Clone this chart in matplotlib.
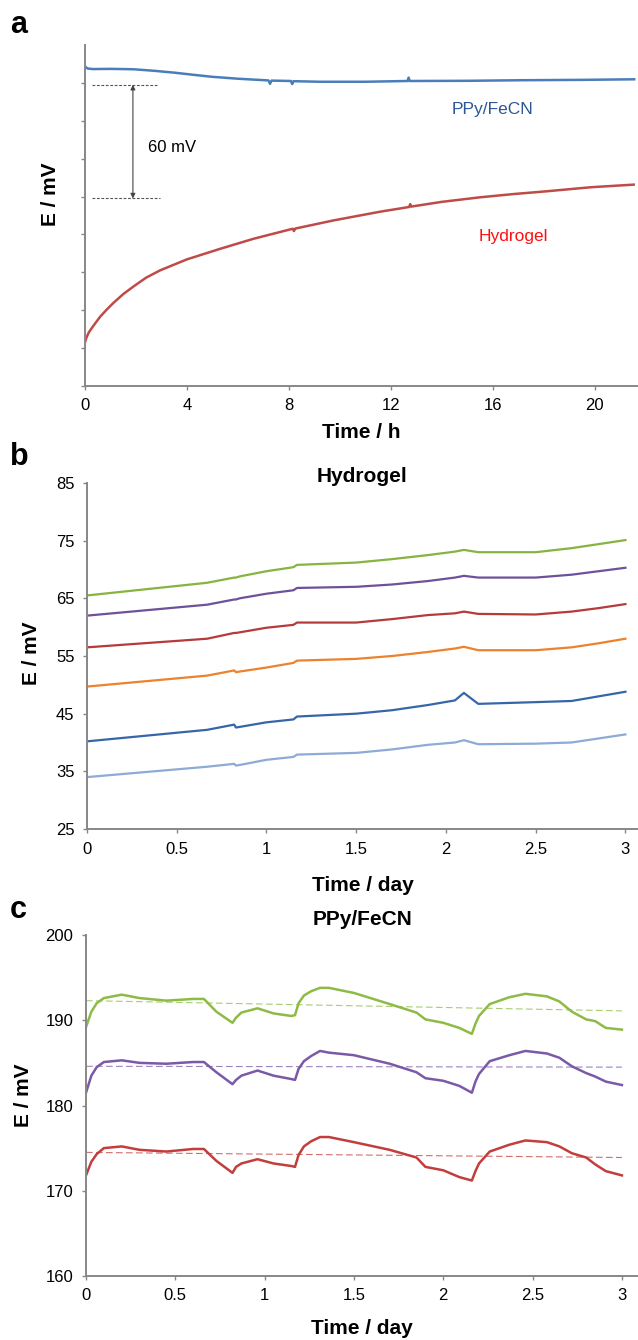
import numpy as np
import matplotlib
matplotlib.use("Agg")
import matplotlib.pyplot as plt

plt.rcParams['font.family'] = ['Liberation Sans', 'DejaVu Sans']

# panel a: potential drift over one day (relative mV, axis unlabelled)
t_ppy = [0, 0.1, 0.3, 1.0, 1.9, 2.7, 3.5, 4.3, 5.0, 6.0, 7.2, 7.26, 7.32, 8.08, 8.13, 8.18, 9.2, 11.0, 12.66, 12.7, 12.74, 15.0, 17.1, 19.5, 21.55]
e_ppy = [168.6, 167.6, 167.3, 167.4, 167.2, 166.4, 165.4, 164.2, 163.2, 162.2, 161.3, 159.5, 161.2, 161.0, 159.4, 160.9, 160.6, 160.6, 161.0, 162.8, 161.0, 161.1, 161.4, 161.6, 161.9]
t_hyd = [0, 0.05, 0.15, 0.33, 0.59, 0.85, 1.11, 1.5, 1.9, 2.4, 2.94, 3.99, 5.3, 6.61, 8.15, 8.2, 8.25, 9.75, 11.58, 12.72, 12.76, 12.8, 14.0, 15.5, 16.8, 18.13, 19.83, 21.53]
e_hyd = [23.0, 25.3, 28.3, 31.8, 36.5, 40.3, 43.8, 48.5, 52.5, 57.2, 61.0, 66.8, 72.4, 77.7, 83.0, 81.8, 83.1, 87.4, 92.0, 94.5, 96.0, 94.7, 97.2, 99.6, 101.3, 102.8, 104.9, 106.3]
gap_levels = [159, 99]

# panel b: hydrogel electrodes over three days
t_b = [0, 0.67, 0.82, 0.83, 0.85, 1.0, 1.15, 1.17, 1.5, 1.7, 1.9, 2.05, 2.1, 2.18, 2.5, 2.7, 2.85, 3.0]
hyd_green = [65.5, 67.7, 68.6, 68.6, 68.8, 69.7, 70.4, 70.8, 71.2, 71.8, 72.5, 73.1, 73.4, 73.0, 73.0, 73.7, 74.4, 75.1]
hyd_purple = [62.0, 63.9, 64.8, 64.8, 65.0, 65.8, 66.4, 66.8, 67.0, 67.4, 68.0, 68.6, 68.9, 68.6, 68.6, 69.1, 69.7, 70.3]
hyd_red = [56.5, 58.0, 59.0, 59.0, 59.1, 59.9, 60.4, 60.8, 60.8, 61.4, 62.1, 62.4, 62.7, 62.3, 62.2, 62.7, 63.3, 64.0]
hyd_orange = [49.7, 51.6, 52.5, 52.2, 52.3, 53.0, 53.8, 54.2, 54.5, 55.0, 55.7, 56.3, 56.6, 56.0, 56.0, 56.5, 57.2, 58.0]
hyd_blue = [40.2, 42.2, 43.1, 42.6, 42.7, 43.5, 44.0, 44.5, 45.0, 45.6, 46.5, 47.3, 48.6, 46.7, 47.0, 47.2, 48.0, 48.8]
hyd_lightblue = [34.0, 35.8, 36.3, 36.0, 36.1, 37.0, 37.5, 37.9, 38.2, 38.8, 39.6, 40.0, 40.4, 39.7, 39.8, 40.0, 40.7, 41.4]

# panel c: PPy/FeCN electrodes over three days
t_c = [0, 0.03, 0.06, 0.1, 0.2, 0.3, 0.45, 0.6, 0.66, 0.73, 0.82, 0.84, 0.87, 0.96, 1.05, 1.15, 1.17, 1.19,
       1.22, 1.26, 1.31, 1.36, 1.5, 1.7, 1.85, 1.9, 2.0, 2.09, 2.16, 2.18, 2.2, 2.26, 2.37, 2.46, 2.58, 2.65,
       2.72, 2.8, 2.85, 2.91, 3.0]
ppy_green = [189.2, 191.0, 192.0, 192.6, 193.0, 192.6, 192.3, 192.5, 192.5, 191.0, 189.7, 190.3, 190.9, 191.4,
             190.8, 190.5, 190.6, 192.0, 192.9, 193.4, 193.8, 193.8, 193.2, 191.9, 190.9, 190.1, 189.7, 189.1,
             188.4, 189.6, 190.5, 191.9, 192.7, 193.1, 192.8, 192.2, 191.0, 190.1, 189.9, 189.1, 188.9]
ppy_purple = [181.5, 183.5, 184.5, 185.1, 185.3, 185.0, 184.9, 185.1, 185.1, 183.9, 182.5, 183.0, 183.5, 184.1,
              183.5, 183.1, 183.0, 184.3, 185.2, 185.8, 186.4, 186.2, 185.9, 184.9, 183.9, 183.2, 182.9, 182.3,
              181.5, 182.8, 183.7, 185.2, 185.9, 186.4, 186.1, 185.6, 184.6, 183.8, 183.4, 182.8, 182.4]
ppy_red = [171.8, 173.4, 174.3, 175.0, 175.2, 174.8, 174.6, 174.9, 174.9, 173.5, 172.1, 172.8, 173.2, 173.7,
           173.2, 172.9, 172.8, 174.2, 175.2, 175.8, 176.3, 176.3, 175.7, 174.8, 173.9, 172.8, 172.4, 171.6,
           171.2, 172.3, 173.2, 174.6, 175.4, 175.9, 175.7, 175.2, 174.4, 173.9, 173.1, 172.3, 171.8]
trend_t = [0, 3]
trend_green = [192.3, 191.1]
trend_purple = [184.6, 184.5]
trend_red = [174.5, 173.9]

spine_col = '#878787'
W, H = 638, 1340
fig = plt.figure(figsize=(W / 100, H / 100), dpi=100)


def box(left, top, right, bottom):
    return [left / W, 1 - bottom / H, (right - left) / W, (bottom - top) / H]


def style(ax):
    for s in ['top', 'right']:
        ax.spines[s].set_visible(False)
    for s in ['left', 'bottom']:
        ax.spines[s].set_color(spine_col)
        ax.spines[s].set_linewidth(1.4)
    ax.tick_params(direction='out', length=3, width=1, color=spine_col,
                   labelsize=12, labelcolor='black', pad=6)


lab = dict(fontsize=15, fontweight='bold')

# ---- a
ax = fig.add_axes(box(85, 45, 638, 386))
style(ax)
ax.plot(t_ppy, e_ppy, color='#4A7EBB', lw=1.8)
ax.plot(t_hyd, e_hyd, color='#BE4B48', lw=1.8)
ax.set_xlim(0, 21.7)
ax.set_ylim(0, 180)
ax.set_xticks([0, 4, 8, 12, 16, 20])
ax.set_yticks(np.arange(0, 161, 20))
ax.set_yticklabels([])
ax.hlines(gap_levels[0], 0.27, 2.83, colors='#555555', lw=0.8, linestyles=(0, (2.5, 1.5)))
ax.hlines(gap_levels[1], 0.27, 2.95, colors='#555555', lw=0.8, linestyles=(0, (2.5, 1.5)))
ax.annotate('', xy=(1.88, gap_levels[1]), xytext=(1.88, gap_levels[0]),
            arrowprops=dict(arrowstyle='<|-|>', color='#444444', lw=0.8,
                            mutation_scale=7, shrinkA=0, shrinkB=0))
ax.text(2.47, 126, '60 mV', fontsize=12, va='center', ha='left')
ax.text(15.98, 146, 'PPy/FeCN', fontsize=12.5, color='#2C5696', ha='center', va='center')
ax.text(16.8, 79, 'Hydrogel', fontsize=12.5, color='#FF1010', ha='center', va='center')
ax.set_xlabel('Time / h', **lab)
ax.xaxis.set_label_coords(0.5, -0.135)
ax.xaxis.label.set_va('center')
ax.set_ylabel('E / mV', **lab)
ax.yaxis.set_label_coords(-0.063, 0.563)
ax.yaxis.label.set_va('center')

# ---- b
ax = fig.add_axes(box(87, 483, 638, 829))
style(ax)
for vals, col in [(hyd_green, '#86B43E'), (hyd_purple, '#6E519A'), (hyd_red, '#B53B3A'),
                  (hyd_orange, '#EC822E'), (hyd_blue, '#3766A8'), (hyd_lightblue, '#8EAAD6')]:
    ax.plot(t_b, vals, color=col, lw=1.6)
ax.set_xlim(0, 3.07)
ax.set_ylim(25, 85)
ax.set_yticks(np.arange(25, 86, 10))
ax.set_xticks([0, 0.5, 1, 1.5, 2, 2.5, 3])
ax.set_xticklabels(['0', '0.5', '1', '1.5', '2', '2.5', '3'])
ax.set_title('Hydrogel', fontsize=15, fontweight='bold', y=0.994, va='center')
ax.set_xlabel('Time / day', **lab)
ax.xaxis.set_label_coords(0.5, -0.162)
ax.xaxis.label.set_va('center')
ax.set_ylabel('E / mV', **lab)
ax.yaxis.set_label_coords(-0.1, 0.509)
ax.yaxis.label.set_va('center')

# ---- c
ax = fig.add_axes(box(86, 935, 638, 1276))
style(ax)
for vals, trend, col in [(ppy_green, trend_green, '#8DBB45'), (ppy_purple, trend_purple, '#7A5AA8'),
                         (ppy_red, trend_red, '#C23E3C')]:
    ax.plot(t_c, vals, color=col, lw=1.8)
    ax.plot(trend_t, trend, color=col, lw=0.8, ls=(0, (6, 3)), alpha=0.75)
ax.set_xlim(0, 3.09)
ax.set_ylim(160, 200)
ax.set_yticks(np.arange(160, 201, 10))
ax.set_xticks([0, 0.5, 1, 1.5, 2, 2.5, 3])
ax.set_xticklabels(['0', '0.5', '1', '1.5', '2', '2.5', '3'])
ax.set_title('PPy/FeCN', fontsize=15, fontweight='bold', y=1.02, va='center')
ax.set_xlabel('Time / day', **lab)
ax.xaxis.set_label_coords(0.5, -0.155)
ax.xaxis.label.set_va('center')
ax.set_ylabel('E / mV', **lab)
ax.yaxis.set_label_coords(-0.114, 0.531)
ax.yaxis.label.set_va('center')

for letter, ybase in [('a', 33), ('b', 465), ('c', 918)]:
    fig.text(10 / W, 1 - ybase / H, letter, fontsize=22, fontweight='bold', va='baseline', ha='left')

fig.savefig('out.png', dpi=100)
